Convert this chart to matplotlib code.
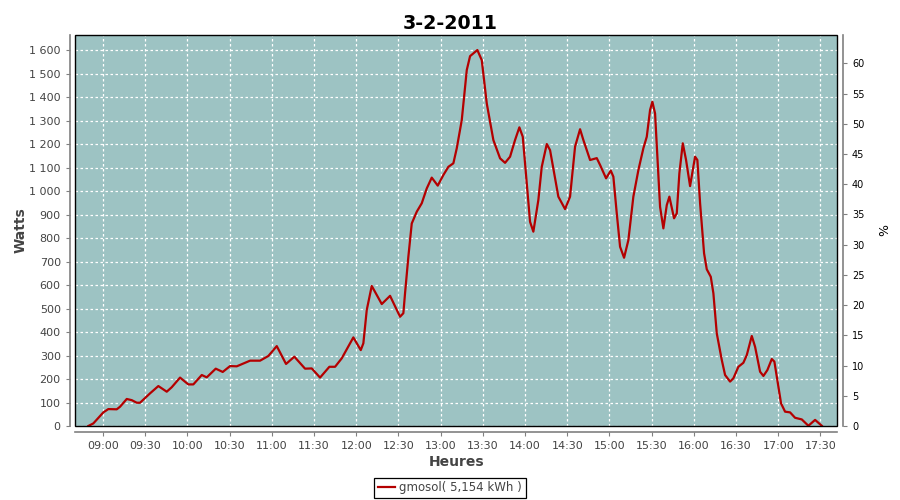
import matplotlib
matplotlib.use('Agg')
import matplotlib.pyplot as plt
import matplotlib.dates as mdates
from matplotlib.patches import Rectangle
from matplotlib.ticker import FuncFormatter, MultipleLocator
import pandas as pd

# production readings for 3 Feb 2011
times = [
    "08:49:33", "08:53:06", "09:00:13", "09:03:46", "09:09:44", "09:12:05",
    "09:16:51", "09:20:24", "09:23:58", "09:26:18", "09:33:25", "09:39:19",
    "09:45:17", "09:48:50", "09:54:44", "10:00:38", "10:04:11", "10:10:10",
    "10:13:43", "10:20:07", "10:25:05", "10:30:17", "10:35:03", "10:44:30",
    "10:51:37", "10:57:31", "11:03:29", "11:10:05", "11:16:00", "11:23:36",
    "11:28:22", "11:34:16", "11:40:53", "11:44:56", "11:49:41", "11:57:56",
    "12:03:12", "12:05:03", "12:07:28", "12:11:01", "12:18:08", "12:24:02",
    "12:31:08", "12:33:29", "12:34:41", "12:37:02", "12:39:27", "12:43:01",
    "12:46:34", "12:50:07", "12:53:40", "12:57:56", "13:01:55", "13:05:29",
    "13:09:02", "13:11:27", "13:15:00", "13:18:34", "13:20:54", "13:26:05",
    "13:29:13", "13:32:46", "13:37:28", "13:42:14", "13:45:47", "13:49:20",
    "13:52:53", "13:55:57", "13:58:22", "14:01:13", "14:03:33", "14:05:54",
    "14:09:27", "14:11:52", "14:15:26", "14:17:46", "14:23:40", "14:28:26",
    "14:31:59", "14:35:33", "14:39:06", "14:41:27", "14:46:13", "14:50:58",
    "14:53:19", "14:57:35", "15:00:55", "15:02:46", "15:05:11", "15:07:32",
    "15:10:23", "15:13:26", "15:16:59", "15:20:33", "15:24:06", "15:26:31",
    "15:28:52", "15:30:30", "15:32:25", "15:34:03", "15:35:58", "15:38:19",
    "15:40:44", "15:42:35", "15:45:55", "15:47:50", "15:49:41", "15:52:07",
    "15:54:27", "15:57:18", "16:00:51", "16:02:29", "16:04:25", "16:07:15",
    "16:09:10", "16:12:01", "16:13:52", "16:16:17", "16:19:50", "16:22:11",
    "16:25:44", "16:28:05", "16:31:38", "16:35:11", "16:37:37", "16:41:10",
    "16:43:31", "16:47:04", "16:49:25", "16:52:15", "16:55:23", "16:57:14",
    "17:00:04", "17:01:59", "17:04:50", "17:08:23", "17:11:56", "17:16:42",
    "17:21:24", "17:26:10", "17:30:55",
]
watts = [
    0, 11, 58, 72, 71, 82, 115, 110, 99, 99, 139, 170,
    146, 165, 206, 177, 177, 217, 207, 244, 230, 255, 254, 278,
    278, 298, 340, 264, 295, 244, 245, 206, 252, 252, 288, 377,
    323, 352, 494, 596, 519, 554, 465, 480, 565, 720, 862, 912,
    948, 1011, 1057, 1023, 1068, 1103, 1118, 1182, 1302, 1515, 1574, 1600,
    1557, 1373, 1217, 1139, 1120, 1146, 1217, 1271, 1231, 1033, 869, 827,
    962, 1103, 1200, 1174, 976, 923, 976, 1189, 1263, 1217, 1132, 1140,
    1111, 1054, 1087, 1061, 905, 763, 716, 791, 976, 1089, 1182, 1231,
    1345, 1380, 1330, 1146, 933, 841, 940, 976, 884, 905, 1075, 1203,
    1132, 1021, 1146, 1132, 948, 735, 667, 635, 565, 394, 281, 217,
    189, 203, 252, 269, 302, 383, 337, 231, 213, 238, 285, 274,
    167, 96, 61, 58, 35, 28, 1, 26, 1,
]
day = "2011-02-03"
series_label = "gmosol( 5,154 kWh )"

x = pd.to_datetime([day + " " + t for t in times])

fig = plt.figure(figsize=(9, 5), dpi=100)
ax = fig.add_axes([0.0837, 0.148, 0.8467, 0.782])
ax.set_facecolor('#9dc3c3')

ax.plot(x, watts, color='#b40000', linewidth=1.6, label=series_label, zorder=3)

ax.set_xlim(pd.Timestamp(day + " 08:40:18"), pd.Timestamp(day + " 17:42:00"))
ax.set_ylim(0, 1664)
ax.yaxis.set_major_locator(MultipleLocator(100))
ax.yaxis.set_major_formatter(FuncFormatter(lambda v, p: f"{int(v):,}".replace(",", " ")))
ax.xaxis.set_major_locator(mdates.MinuteLocator(byminute=[0, 30]))
ax.xaxis.set_major_formatter(mdates.DateFormatter('%H:%M'))

ax.grid(True, color='white', linestyle=(0, (2, 2)), linewidth=0.9)
ax.set_axisbelow(True)

for s in ['top', 'right']:
    ax.spines[s].set_visible(False)
for s in ['left', 'bottom']:
    ax.spines[s].set_position(('outward', 4))
    ax.spines[s].set_color('#808080')
    ax.spines[s].set_linewidth(1.2)
ax.tick_params(axis='both', colors='#808080', labelcolor='#444444', labelsize=8, length=3)

# black frame around the data area
ax.add_patch(Rectangle((0, 0), 1, 1, transform=ax.transAxes, fill=False,
                       edgecolor='black', linewidth=1.0, clip_on=False, zorder=5))

ax2 = ax.twinx()
ax2.set_ylim(0, 64.7)
ax2.yaxis.set_major_locator(MultipleLocator(5))
for s in ['top', 'left', 'bottom']:
    ax2.spines[s].set_visible(False)
ax2.spines['right'].set_position(('outward', 4))
ax2.spines['right'].set_color('#808080')
ax2.spines['right'].set_linewidth(1.2)
ax2.tick_params(axis='y', colors='#808080', labelcolor='black', labelsize=7, length=3)

fig.suptitle('3-2-2011', x=0.5, y=0.972, fontsize=13.7, fontweight='bold')
ax.set_xlabel('Heures', fontsize=10, fontweight='bold', color='#444444', labelpad=3)
ax.set_ylabel('Watts', fontsize=10, fontweight='bold', color='#444444', labelpad=1)
ax2.set_ylabel('%', fontsize=9, color='black', labelpad=10)

leg = fig.legend(loc='center', bbox_to_anchor=(0.5, 0.024), fontsize=8.5,
                 handlelength=1.4, handletextpad=0.4, borderpad=0.3,
                 fancybox=False, edgecolor='black', framealpha=1)
leg.get_frame().set_linewidth(0.9)
for t in leg.get_texts():
    t.set_color('#444444')

fig.savefig('out.png', dpi=100, facecolor='white')
